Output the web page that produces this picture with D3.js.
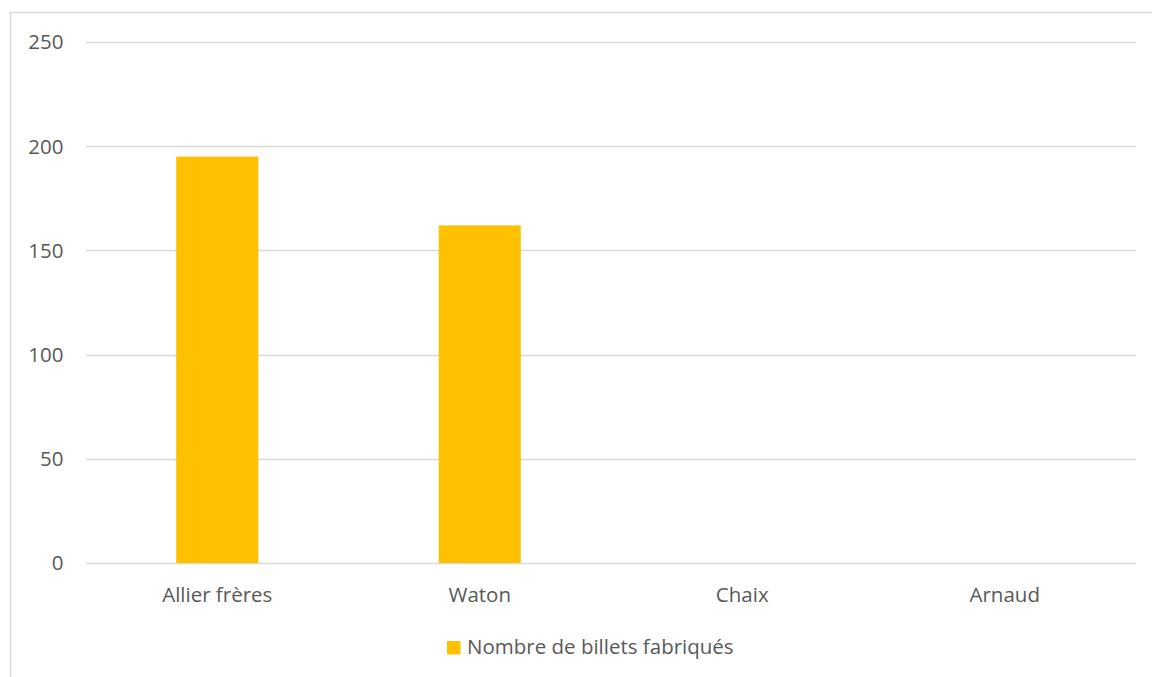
<!DOCTYPE html>
<html><head><meta charset="utf-8">
<script src="https://cdn.jsdelivr.net/npm/d3@7"></script>
<style>body{margin:0;background:#fff}svg{display:block}text{font-family:"Open Sans",sans-serif;fill:#595959}</style>
</head><body>
<svg id="c" width="1152" height="677"></svg>
<script>
const categories = ["Allier frères", "Waton", "Chaix", "Arnaud"];
const values = [195, 162, 0, 0];
const yTicks = [0, 50, 100, 150, 200, 250];
const seriesName = "Nombre de billets fabriqués";

(function () {
const svg = d3.select("#c");
const mLeft = 86, mRight = 1136, mTop = 42, mBottom = 563;
const fs = 20.5;
// chart border
svg.append("path").attr("d", "M10.5,677 V12.5 H1152").attr("fill","none").attr("stroke","#d9d9d9").attr("stroke-width",1.5);

const x = d3.scaleBand().domain(categories).range([mLeft, mRight]).paddingInner(0).paddingOuter(0);
const y = d3.scaleLinear().domain([0, 250]).range([mBottom, mTop]);

const gy = svg.append("g");
gy.selectAll("line").data(yTicks).join("line")
  .attr("x1", mLeft).attr("x2", mRight)
  .attr("y1", d => Math.round(y(d)) + 0.5).attr("y2", d => Math.round(y(d)) + 0.5)
  .attr("stroke", "#d9d9d9").attr("stroke-width", 1.3);
gy.selectAll("text").data(yTicks).join("text")
  .attr("x", 63.5).attr("y", d => y(d) + 7.3)
  .attr("text-anchor", "end").attr("font-size", fs).text(d => d);

const bw = x.bandwidth() * 0.3125;
svg.append("g").selectAll("rect").data(values).join("rect")
  .attr("x", (d, i) => x(categories[i]) + (x.bandwidth() - bw) / 2)
  .attr("width", bw)
  .attr("y", d => y(d)).attr("height", d => y(0) - y(d))
  .attr("fill", "#ffc000");

svg.append("g").selectAll("text").data(categories).join("text")
  .attr("x", d => x(d) + x.bandwidth() / 2).attr("y", 602)
  .attr("text-anchor", "middle").attr("font-size", fs).text(d => d);

// legend
const lg = svg.append("g");
lg.append("rect").attr("x", 447).attr("y", 641).attr("width", 13.5).attr("height", 13.5).attr("fill", "#ffc000");
lg.append("text").attr("x", 467).attr("y", 654).attr("font-size", fs).text(seriesName);
})();
</script>
</body></html>
